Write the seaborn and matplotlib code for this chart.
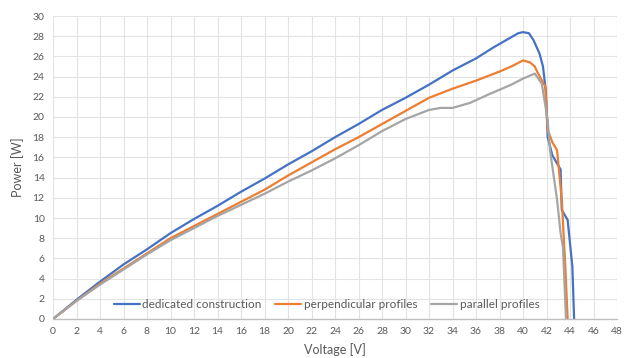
import matplotlib
matplotlib.use("Agg")
import matplotlib.pyplot as plt
import seaborn as sns
import pandas as pd

# P-V characteristics for three mounting variants
series_names = ["dedicated construction", "perpendicular profiles", "parallel profiles"]

dedicated_v = [0, 2, 4, 6, 8, 10, 12, 14, 16, 18, 20, 22, 24, 26, 28, 29, 30, 32, 34, 36,
               37.5, 39, 39.6, 40, 40.5, 40.9, 41.4, 41.7, 41.95, 42.1, 42.5, 43.0, 43.2,
               43.3, 43.8, 44.2, 44.35]
dedicated_p = [0, 1.9, 3.7, 5.4, 6.9, 8.5, 9.9, 11.2, 12.6, 13.9, 15.3, 16.6, 18.0, 19.3, 20.7,
               21.3, 21.9, 23.2, 24.6, 25.8, 26.9, 27.9, 28.3, 28.4, 28.3, 27.6, 26.3, 25.0,
               22.5, 18.0, 16.2, 15.2, 14.8, 10.8, 9.8, 5.2, 0]

perpendicular_v = [0, 2, 4, 6, 8, 10, 12, 14, 16, 18, 20, 22, 24, 26, 28, 30, 32, 34, 36, 38,
                   39, 40, 40.6, 41.0, 41.2, 41.9, 42.1, 42.5, 42.9, 43.3, 43.6, 43.8]
perpendicular_p = [0, 1.8, 3.5, 5.0, 6.5, 8.0, 9.2, 10.4, 11.6, 12.8, 14.2, 15.5, 16.8, 18.0,
                   19.3, 20.6, 21.9, 22.8, 23.6, 24.5, 25.0, 25.6, 25.4, 25.0, 24.5, 23.0, 18.7,
                   17.5, 16.7, 11.8, 5.2, 0]

parallel_v = [0, 2, 4, 6, 8, 10, 12, 14, 16, 18, 20, 22, 24, 26, 28, 30, 32, 33, 34, 35.5,
              37, 39, 40, 41.0, 41.6, 42.1, 42.3, 42.9, 43.2, 43.4, 43.66]
parallel_p = [0, 1.8, 3.4, 4.9, 6.4, 7.8, 9.0, 10.2, 11.3, 12.4, 13.6, 14.7, 15.9, 17.2, 18.6,
              19.8, 20.7, 20.9, 20.9, 21.4, 22.2, 23.2, 23.8, 24.3, 23.3, 19.7, 16.7, 11.8,
              8.5, 7.1, 0]

x_ticks = list(range(0, 49, 2))
y_ticks = list(range(0, 31, 2))

frames = []
for name, v, p in [(series_names[0], dedicated_v, dedicated_p),
                   (series_names[1], perpendicular_v, perpendicular_p),
                   (series_names[2], parallel_v, parallel_p)]:
    frames.append(pd.DataFrame({"Voltage": v, "Power": p, "Series": name}))
df = pd.concat(frames, ignore_index=True)

sns.set_theme(style="white")
plt.rcParams["font.family"] = ["Lato", "DejaVu Sans"]

fig = plt.figure(figsize=(6.24, 3.58), dpi=100)
ax = fig.add_axes([53 / 624, 1 - 319 / 358, 564 / 624, 303 / 358])

palette = {series_names[0]: "#4472C4", series_names[1]: "#ED7D31", series_names[2]: "#A5A5A5"}
sns.lineplot(data=df, x="Voltage", y="Power", hue="Series", palette=palette,
             sort=False, estimator=None, linewidth=1.6, ax=ax)
for line in ax.get_lines():
    line.set_solid_joinstyle("round")

ax.set_xlim(0, 48)
ax.set_ylim(0, 30)
ax.set_xticks(x_ticks)
ax.set_yticks(y_ticks)
ax.grid(True, color="#e3e3e3", linewidth=0.8)
ax.set_axisbelow(True)
for s in ["top", "right", "left"]:
    ax.spines[s].set_visible(False)
ax.spines["bottom"].set_color("#bfbfbf")
ax.spines["bottom"].set_linewidth(1.0)
ax.tick_params(axis="both", length=0, labelsize=7.5, labelcolor="#595959", pad=6)

ax.set_xlabel("Voltage [V]", fontsize=9, color="#595959", labelpad=5)
ax.set_ylabel("Power [W]", fontsize=9, color="#595959", labelpad=6)

leg = ax.legend(loc="lower center", bbox_to_anchor=(0.485, -0.005), ncol=3, frameon=False,
                fontsize=8.5, handlelength=2.2, handletextpad=0.2, columnspacing=1.2)
for t in leg.get_texts():
    t.set_color("#595959")

fig.savefig("out.png", dpi=100)
